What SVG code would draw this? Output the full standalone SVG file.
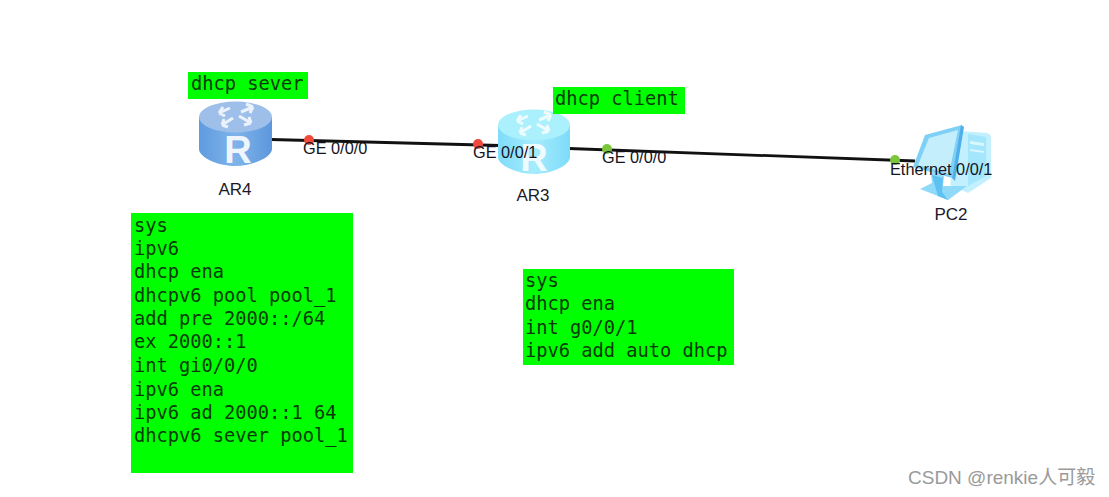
<svg xmlns="http://www.w3.org/2000/svg" width="1109" height="497" viewBox="0 0 1109 497">
<style>
.g{fill:#00ff00}
.m{font-family:"DejaVu Sans Mono","Liberation Mono",monospace;font-size:18.7px;fill:#063a06}
.l{font-family:"Liberation Sans",Arial,sans-serif;font-size:17px;fill:#1a1a2a}
.p{font-family:"Liberation Sans",Arial,sans-serif;font-size:16.300px;fill:#14141e}
.a{fill:none;stroke:#fff;stroke-opacity:.8;stroke-width:3}
</style>
<defs>
<linearGradient id="b1" x1="0" x2="1" y1="0" y2="0"><stop offset="0" stop-color="#5f9be0"/><stop offset=".5" stop-color="#7fb4ea"/><stop offset="1" stop-color="#5c97dc"/></linearGradient>
<linearGradient id="b2" x1="0" x2="1" y1="0" y2="0"><stop offset="0" stop-color="#7fdcfa"/><stop offset=".5" stop-color="#a5ecfd"/><stop offset="1" stop-color="#7edbf9"/></linearGradient>
<g id="arrows">
<path class="a" d="M-17-3-6-8M-17-3-13-9M-17-3-11 0M17-9 5-4M17-9 10-12M17-9 14-3M-14 9-3 2M-14 9-8 11M-14 9-12 3M15 7 3 0M15 7 13 1M15 7 8 9"/>
</g>
</defs>
<rect width="1109" height="497" fill="#fff"/>
<g id="connectors" stroke="#111" stroke-width="2.800" fill="none">
<line x1="271" y1="139.500" x2="500" y2="145.500"/>
<line x1="569" y1="148.500" x2="915" y2="161"/>
</g>
<g id="AR4">
<path d="M199 117V149C199 157 217 166 235 166C253 166 272 157 272 149V117Z" fill="url(#b1)"/>
<ellipse cx="235.500" cy="117" rx="36.500" ry="15.500" fill="#9dbfea"/>
<use href="#arrows" transform="translate(236 116)"/>
<text x="238" y="163" text-anchor="middle" font-family="Liberation Sans,sans-serif" font-size="38" font-weight="bold" fill="#eef5fd">R</text>
<text class="l" x="235" y="195" text-anchor="middle">AR4</text>
</g>
<g id="AR3">
<path d="M498 125V157C498 165 516 174 534 174C552 174 570 165 570 157V125Z" fill="url(#b2)"/>
<ellipse cx="534" cy="125" rx="36" ry="15.500" fill="#aaf0fd"/>
<use href="#arrows" transform="translate(534 124)"/>
<text x="534" y="171" text-anchor="middle" font-family="Liberation Sans,sans-serif" font-size="38" font-weight="bold" fill="#effcff">R</text>
<text class="l" x="533" y="201" text-anchor="middle">AR3</text>
</g>
<g id="PC2">
<path d="M960 131 987 133Q991 134 991 138V178L968 193 950 185Z" fill="#c2f0fe"/>
<path d="M968 134 986 137V176L968 186Z" fill="#a4e6fc"/>
<path d="M970 141 984 143V146L970 144ZM970 149 984 151V153L970 151Z" fill="#daf7fe"/>
<path d="M925 135 962 125 952 178 913 167Z" fill="#7fd0f6"/>
<path d="M929 138 958 130 949 174 918 165Z" fill="#c4eefc"/>
<path d="M961 125 964 127 955 181 952 178Z" fill="#50aeea"/>
<path d="M931 172 944 176 943 186 967 186 948 200 920 189 932 183Z" fill="#8edaf8"/>
<path d="M932 175 943 178 942 192 948 200 938 196 935 186Z" fill="#5fc0f2"/>
<text class="l" x="951" y="220" text-anchor="middle">PC2</text>
</g>
<g id="ports">
<circle cx="309" cy="140" r="5" fill="#f04a3c"/>
<circle cx="478" cy="144" r="5" fill="#f04a3c"/>
<circle cx="607" cy="149" r="5" fill="#7cc63c"/>
<circle cx="895" cy="160" r="5" fill="#7cc63c"/>
<text class="p" x="303" y="154">GE 0/0/0</text>
<text class="p" x="473" y="158">GE 0/0/1</text>
<text class="p" x="602" y="163">GE 0/0/0</text>
<text class="p" x="890" y="175">Ethernet 0/0/1</text>
</g>
<g id="label-server">
<rect class="g" x="188" y="72" width="120" height="27"/>
<text class="m" x="191" y="90">dhcp sever</text>
</g>
<g id="label-client">
<rect class="g" x="553" y="87" width="132" height="27"/>
<text class="m" x="555" y="105">dhcp client</text>
</g>
<g id="config-server">
<rect class="g" x="131" y="213" width="222" height="260"/>
<text class="m" x="134" y="232">sys</text>
<text class="m" x="134" y="255">ipv6</text>
<text class="m" x="134" y="278">dhcp ena</text>
<text class="m" x="134" y="302">dhcpv6 pool pool_1</text>
<text class="m" x="134" y="325">add pre 2000::/64</text>
<text class="m" x="134" y="348">ex 2000::1</text>
<text class="m" x="134" y="372">int gi0/0/0</text>
<text class="m" x="134" y="396">ipv6 ena</text>
<text class="m" x="134" y="419">ipv6 ad 2000::1 64</text>
<text class="m" x="134" y="442">dhcpv6 sever pool_1</text>
</g>
<g id="config-client">
<rect class="g" x="523" y="269" width="211" height="96"/>
<text class="m" x="525" y="287">sys</text>
<text class="m" x="525" y="310">dhcp ena</text>
<text class="m" x="525" y="334">int g0/0/1</text>
<text class="m" x="525" y="357">ipv6 add auto dhcp</text>
</g>
<text x="908" y="484" font-family="'Liberation Sans','Noto Sans CJK SC',sans-serif" font-size="19" fill="#9a9a9a">CSDN @renkie人可毅</text>
</svg>
